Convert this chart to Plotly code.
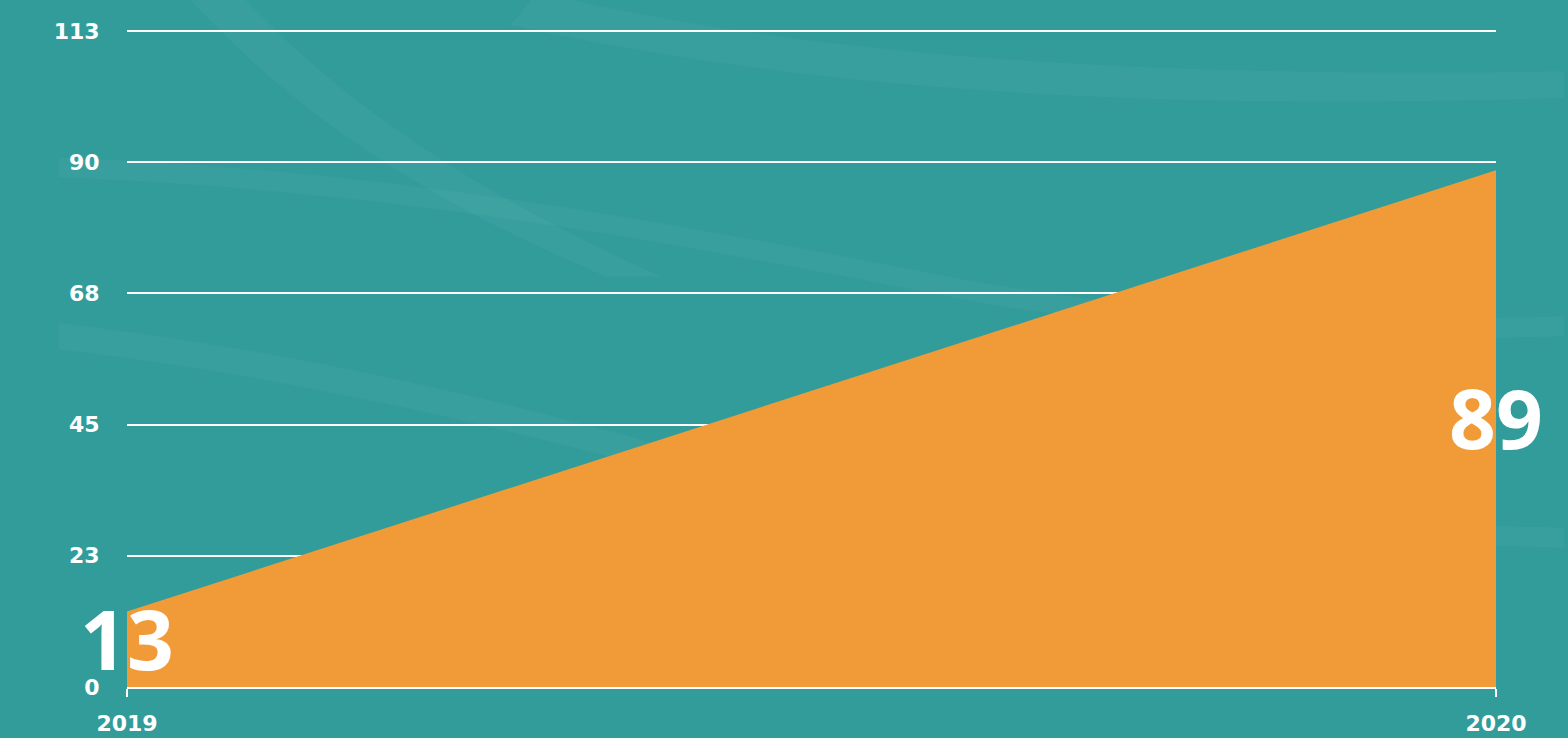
import plotly.graph_objects as go

# datos
anios = ['2019', '2020']
valores = [13, 89]
ticks_y = [0, 22.6, 45.2, 67.8, 90.4, 113]
ticks_y_texto = ['0', '23', '45', '68', '90', '113']

fondo = '#329c9b'
naranja = '#f09b38'

fig = go.Figure()

# área naranja
fig.add_trace(go.Scatter(
    x=anios, y=valores,
    mode='lines', fill='tozeroy',
    line=dict(width=0, color=naranja),
    fillcolor=naranja,
    hoverinfo='x+y',
    showlegend=False,
))

# etiquetas grandes, a media altura del valor
fig.add_trace(go.Scatter(
    x=anios, y=[v / 2 for v in valores],
    mode='text', text=[str(v) for v in valores],
    textposition='middle center',
    textfont=dict(family='Noto Sans', size=82, color='white', weight='bold'),
    hoverinfo='skip', showlegend=False, cliponaxis=False,
))

# vetas claras del fondo (decorativas)
vetas = [
    'M 0.02,1.1 C 0.1,0.9 0.2,0.75 0.35,0.62 L 0.39,0.62 C 0.25,0.75 0.14,0.9 0.06,1.1 Z',
    'M 0.3,1.05 C 0.5,0.95 0.75,0.92 1.05,0.93 L 1.05,0.89 C 0.75,0.87 0.5,0.9 0.28,1.0 Z',
    'M -0.05,0.80 C 0.2,0.78 0.4,0.70 0.6,0.62 C 0.75,0.56 0.9,0.55 1.05,0.56 L 1.05,0.53 C 0.9,0.52 0.75,0.53 0.6,0.59 C 0.4,0.67 0.2,0.75 -0.05,0.77 Z',
    'M -0.05,0.55 C 0.15,0.5 0.3,0.42 0.45,0.33 L 0.42,0.31 C 0.28,0.39 0.12,0.47 -0.05,0.51 Z',
    'M 0.65,0.22 C 0.8,0.24 0.95,0.25 1.05,0.24 L 1.05,0.21 C 0.95,0.22 0.8,0.21 0.65,0.2 Z',
]
for p in vetas:
    fig.add_shape(type='path', path=p, xref='paper', yref='paper',
                  fillcolor='rgba(255,255,255,0.03)', line_width=0, layer='below')

fig.update_layout(
    width=1568, height=738,
    paper_bgcolor=fondo,
    plot_bgcolor='rgba(0,0,0,0)',
    margin=dict(l=127, r=72, t=25, b=51, autoexpand=False),
    font=dict(family='DejaVu Sans', color='white', size=22),
    showlegend=False,
    xaxis=dict(
        type='category', range=[0, 1],
        showgrid=False, zeroline=False, automargin=False,
        showline=True, linecolor='white', linewidth=2,
        ticks='outside', ticklen=8, tickwidth=2, tickcolor='white',
        tickfont=dict(family='DejaVu Sans', size=22, color='white', weight='bold'),
        ticklabelstandoff=8,
        fixedrange=True,
    ),
    yaxis=dict(
        range=[0, 114],
        tickvals=ticks_y, ticktext=ticks_y_texto,
        showgrid=True, gridcolor='white', gridwidth=2,
        zeroline=False, showline=False, automargin=False,
        ticks='outside', ticklen=0,
        ticklabelstandoff=22,
        tickfont=dict(family='DejaVu Sans', size=22, color='white', weight='bold'),
        fixedrange=True,
    ),
)

fig.write_html('out.html', config={'displayModeBar': False},
               post_script="document.body.style.margin='0';")
